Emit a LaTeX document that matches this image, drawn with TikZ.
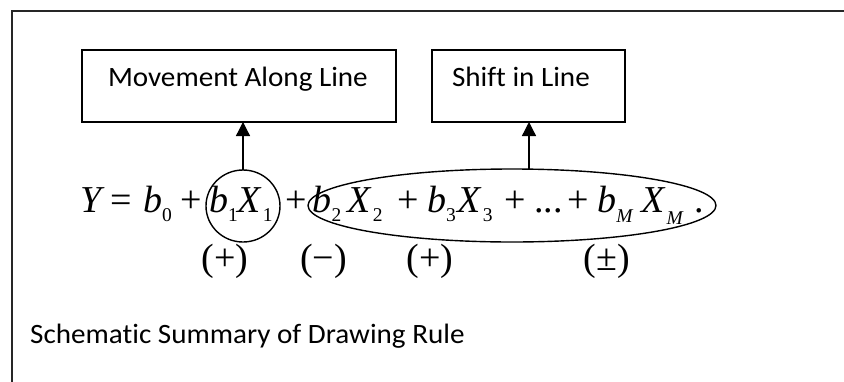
\documentclass[tikz,border=0pt]{standalone}
\usepackage{fontspec}
\usetikzlibrary{shapes.geometric,arrows.meta}
\newfontfamily\calib[FakeStretch=1.04,Ligatures=NoCommon]{Carlito}
\newfontfamily\tms{Liberation Serif}
\newcommand\thd{...}
\newcommand\lo[2][9]{\raisebox{-#1pt}{\fontsize{19.5}{20}\selectfont #2}}
\begin{document}
\begin{tikzpicture}[x=1pt,y=-1pt,
  lbl/.style={font=\calib\fontsize{28}{32}\selectfont},
  boxn/.style={draw, line width=1.4pt, inner ysep=0pt, outer sep=0pt, text height=36pt, text depth=36pt, anchor=north west, lbl},
  eq/.style={font=\tms\fontsize{38}{40}\selectfont, inner sep=0pt, anchor=base},
  ring/.style={draw, ellipse, line width=1.4pt, inner sep=0pt, outer sep=0pt},
  arr/.style={line width=1.3pt, -{Triangle[width=14pt,length=14pt]}}]
\useasboundingbox (0,0) rectangle (844,381);
\fill[white] (-20,-20) rectangle (870,400);
\draw[line width=1.8pt, black!85] (900,11) -- (12,11) -- (12,450);
% boxes
\node[boxn, inner xsep=26pt] (box1) at (82,50) {\makebox[262pt][l]{Movement Along Line}};
\node[boxn, inner xsep=20pt] (box2) at (432,50) {\makebox[153pt][l]{Shift in Line}};
% equation
\foreach \gx/\gt [count=\i] in {93/\textit{Y}, 121/=, 157.5/\textit{b}\lo{0}, 191/+,
  223.5/\textit{b}\lo{1}, 255/\textit{X}\kern1pt\lo{1},
  296/+, 327/\textit{b}\lo{2}, 365/\textit{X}\kern1pt\lo{2},
  408.5/+, 441.5/\textit{b}\lo{3}, 475/\textit{X}\kern1pt\lo{3}, 515/+,
  548.5/\thd, 578.5/+, 615.5/\textit{b}\lo[10]{\textit{M}}, 662.5/\textit{X}\kern1pt\lo[12]{\textit{M}}, 699.5/.}
  \node[eq] (g\i) at (\gx,212) {\gt};
% signs
\node[eq] (s1) at (225,270) {(+)};
\node[eq] (s2) at (323.5,270) {(−)};
\node[eq] (s3) at (430,270) {(+)};
\node[eq] (s4) at (607,270) {(±)};
% rings
\node[ring, minimum width=74pt, minimum height=72pt] (c1) at (243,206) {};
\node[ring, minimum width=408pt, minimum height=73pt] (c2) at (512,205.5) {};
% arrows
\draw[arr] (c1.north) -- (c1.north |- box1.south);
\draw[arr] ([xshift=17pt]c2.north) -- ([xshift=17pt]c2.north |- box2.south);
% caption
\node[lbl, inner sep=0pt, anchor=base west] (cap) at (30,343) {Schematic Summary of Drawing Rule};
\end{tikzpicture}
\end{document}
